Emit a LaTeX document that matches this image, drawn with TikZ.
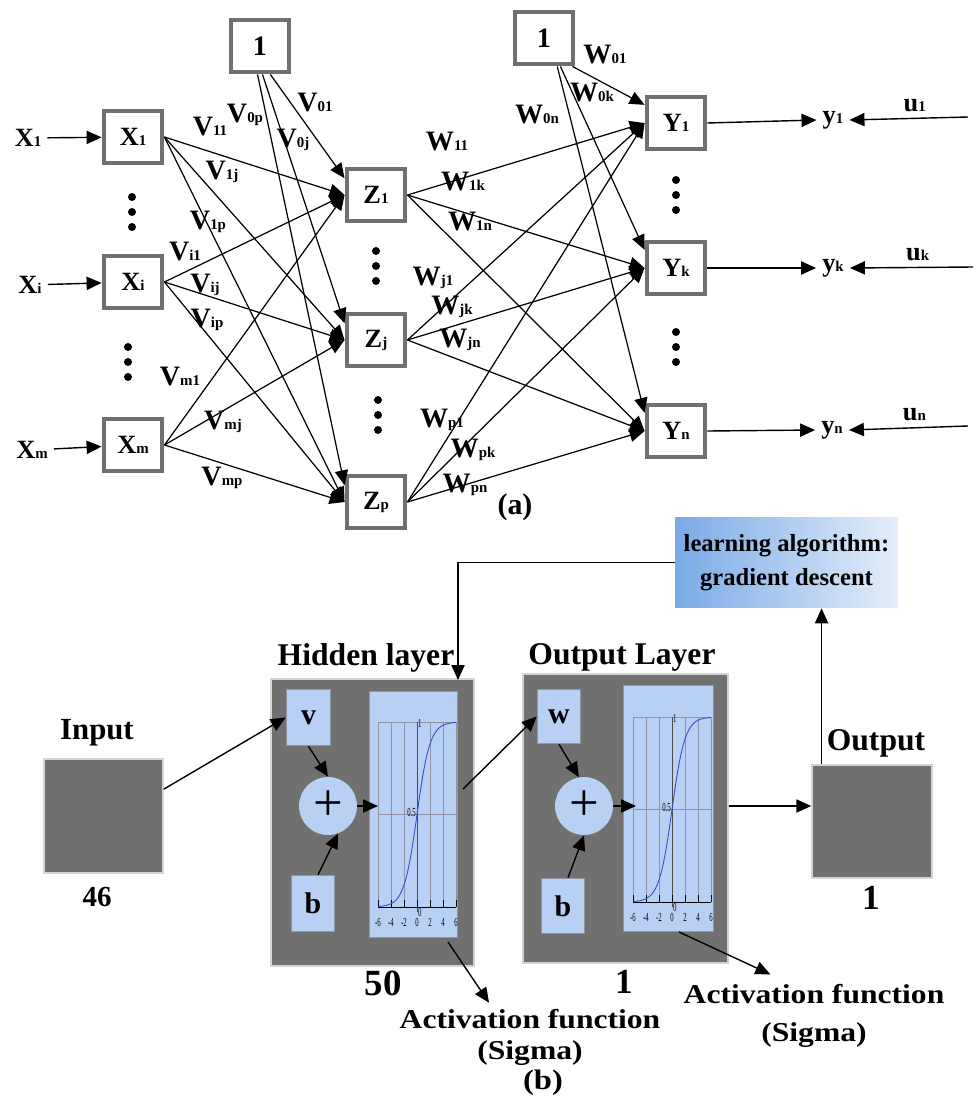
\documentclass[tikz,border=0pt]{standalone}
\usepackage{fontspec}
\setmainfont{Liberation Serif}
\usetikzlibrary{arrows.meta, positioning, calc}

\definecolor{boxgray}{RGB}{112,112,112}
\definecolor{panelblue}{RGB}{185,208,245}
\definecolor{learnleft}{RGB}{122,170,229}
\definecolor{learnright}{RGB}{228,238,251}
\definecolor{curveblue}{RGB}{55,75,200}
\definecolor{gridgray}{RGB}{140,148,165}

% letter with a small index on the baseline
\newcommand{\lsub}[2]{#1{\fontsize{8.5}{9}\selectfont #2}}
% squeezed tick label of the sigmoid plot
\newcommand{\tk}[1]{\scalebox{0.55}[1]{\fontsize{7}{7}\selectfont #1}}
% widened note text
\newcommand{\wide}[1]{\scalebox{1.16}[1]{#1}}

\begin{document}
\begin{tikzpicture}[
    x=0.02cm, y=-0.02cm,
    font=\bfseries,
    neuron/.style={rectangle, draw=boxgray, line width=2.8pt, fill=white, minimum width=1.16cm, minimum height=1.04cm, font=\bfseries\fontsize{15}{17}\selectfont},
    bias/.style={neuron, font=\bfseries\fontsize{16}{18}\selectfont},
    wlab/.style={font=\bfseries\fontsize{16}{18}\selectfont, inner sep=1pt},
    iolab/.style={font=\bfseries\fontsize{15}{17}\selectfont},
    edge/.style={line width=0.7pt, -{Triangle[length=8.5pt,width=7.5pt]}},
    arrow/.style={line width=0.8pt, -{Triangle[length=8.5pt,width=7.5pt]}},
    layer/.style={rectangle, fill=boxgray, inner sep=0pt, draw=boxgray, draw opacity=0.3, line width=2pt},
    unit/.style={rectangle, fill=panelblue, inner sep=0pt, draw=panelblue, draw opacity=0.4, line width=1.5pt, font=\bfseries\fontsize{17}{19}\selectfont},
    adder/.style={circle, fill=panelblue, minimum size=1.16cm, inner sep=0pt, font=\fontsize{30}{30}\selectfont},
    caption/.style={font=\bfseries\fontsize{18}{20}\selectfont},
    note/.style={align=center, font=\bfseries\fontsize{15.5}{17.6}\selectfont},
    learnbox/.style={rectangle, left color=learnleft, right color=learnright, minimum width=4.46cm, minimum height=1.82cm, align=center, font=\bfseries\fontsize{14}{19}\selectfont},
    tick/.style={inner sep=0.5pt, font=\mdseries}
]
\path[use as bounding box, fill=white] (0,0) rectangle (976,1102);

% ---------- (a) network ----------
\node[bias] (one1) at (260,46) {1};
\node[bias] (one2) at (544,38) {1};

% input layer
\node[neuron] (X1) at (133,137) {\lsub{X}{1}};
\node[neuron] (Xi) at (133,282) {\lsub{X}{i}};
\node[neuron] (Xm) at (133,445) {\lsub{X}{m}};

% hidden layer
\node[neuron] (Z1) at (376,195) {\lsub{Z}{1}};
\node[neuron] (Zj) at (376,340) {\lsub{Z}{j}};
\node[neuron] (Zp) at (376,502) {\lsub{Z}{p}};

% output layer
\node[neuron] (Y1) at (676,123) {\lsub{Y}{1}};
\node[neuron] (Yk) at (676,268) {\lsub{Y}{k}};
\node[neuron] (Yn) at (676,431) {\lsub{Y}{n}};

% inputs
\node[iolab] (x1in) at (28,138) {\lsub{X}{1}};
\node[iolab] (xiin) at (30,285) {\lsub{X}{i}};
\node[iolab] (xmin) at (32,450) {\lsub{X}{m}};
\draw[arrow] (x1in) -- (X1);
\draw[arrow] (xiin) -- (Xi);
\draw[arrow] (xmin) -- (Xm);

% outputs and targets
\node[iolab] (y1) at (833,120) {\lsub{y}{1}};
\node[iolab] (yk) at (833,268) {\lsub{y}{k}};
\node[iolab] (yn) at (832,430) {\lsub{y}{n}};
\draw[arrow] (Y1.east) -- (y1.west);
\draw[arrow] (Yk.east) -- (yk.west);
\draw[arrow] (Yn.east) -- (yn.west);
\coordinate (u1s) at (968,117);
\coordinate (uks) at (973,267);
\coordinate (uns) at (968,426);
\draw[arrow] (u1s) -- node[iolab, above, pos=0.45] (u1) {\lsub{u}{1}} (y1.east);
\draw[arrow] (uks) -- node[iolab, above, pos=0.45] (uk) {\lsub{u}{k}} (yk.east);
\draw[arrow] (uns) -- node[iolab, above, pos=0.45] (un) {\lsub{u}{n}} (yn.east);

% dots between units
\foreach \x/\y in {132/212, 128/362, 376/266, 378/415, 676/195, 676/347}
  \foreach \d in {-15,0,15}
    \fill (\x,\y+\d) circle (4);

% weights
\foreach \a in {X1,Xi,Xm}
  \foreach \b in {Z1,Zj,Zp}
    \draw[edge] (\a.east) -- (\b.west);
\foreach \b/\s in {Z1/-70, Zj/-85, Zp/-95}
  \draw[edge] (one1.\s) -- (\b.152);
\foreach \a in {Z1,Zj,Zp}
  \foreach \b in {Y1,Yk,Yn}
    \draw[edge] (\a.east) -- (\b.west);
\foreach \b/\s in {Y1/-45, Yk/-60, Yn/-65}
  \draw[edge] (one2.\s) -- (\b.150);

% weight labels
\foreach \t/\s/\x/\y in {V/11/210/127, V/0p/245/115, V/01/315/103, V/0j/293/140,
    V/1j/222/172, V/1p/208/222, V/i1/185/252, V/ij/205/285, V/ip/207/320,
    V/m1/180/377, V/mj/223/422, V/mp/222/478,
    W/01/605/55, W/0k/592/93, W/0n/537/115, W/11/447/142, W/1k/463/182,
    W/1n/470/222, W/j1/433/278, W/jk/452/307, W/jn/460/340, W/p1/442/420,
    W/pk/473/450, W/pn/465/485}
  \node[wlab] (\t\s) at (\x,\y) {\lsub{\t}{\s}};

\node[caption, font=\bfseries\fontsize{17}{19}\selectfont] (alab) at (515,507) {(a)};

% ---------- (b) training scheme ----------
\node[learnbox] (learn) at (786.5,562.5) {learning algorithm:\\gradient descent};

% input
\node[layer, minimum width=2.34cm, minimum height=2.24cm] (inp) at (103.5,816) {};
\node[caption, font=\bfseries\fontsize{17.5}{19}\selectfont] (inplab) at (97,733) {Input};
\node[caption, font=\bfseries\fontsize{16.5}{18}\selectfont] (inpn) at (97,897) {46};

% hidden layer block
\node[layer, minimum width=4.02cm, minimum height=5.7cm] (hid) at (372.5,822.5) {};
\node[caption] (hidlab) at (366,658) {Hidden layer};
\node[unit, minimum width=0.86cm, minimum height=1.1cm] (v) at (308.5,717.5) {v};
\node[unit, minimum width=0.84cm, minimum height=1.1cm] (hb) at (313,903.5) {b};
\node[adder] (hplus) at (328,806) {+};
\node[unit, minimum width=1.74cm, minimum height=4.9cm] (hplot) at (413.5,814.5) {};
\node[caption, font=\bfseries\fontsize{21}{21}\selectfont] (hidn) at (383,983) {50};

% output layer block
\node[layer, minimum width=4.06cm, minimum height=5.74cm] (olay) at (625.5,818.5) {};
\node[caption] (olaylab) at (622,657) {Output Layer};
\node[unit, minimum width=0.84cm, minimum height=1.06cm] (w) at (559,716.5) {w};
\node[unit, minimum width=0.84cm, minimum height=1.08cm] (ob) at (563,906) {b};
\node[adder] (oplus) at (584,806) {+};
\node[unit, minimum width=1.78cm, minimum height=4.9cm] (oplot) at (668.5,808.5) {};
\node[caption, font=\bfseries\fontsize{20}{20}\selectfont] (olayn) at (624,982) {1};

% output
\node[layer, minimum width=2.36cm, minimum height=2.22cm] (oout) at (872,821.5) {};
\node[caption] (ooutlab) at (876,743) {Output};
\node[caption, font=\bfseries\fontsize{20}{20}\selectfont] (ooutn) at (871,898) {1};

% sigmoid plots
\foreach \dx/\dy in {0/0, 255/-5} {
  \begin{scope}[shift={(\dx,\dy)}]
    \foreach \k in {0,...,6}
      \draw[gridgray, line width=0.3pt] (378+13*\k,722) -- (378+13*\k,907);
    \draw[gridgray, line width=0.3pt] (378,722) -- (456,722);
    \draw[gridgray, line width=0.3pt] (378,814.5) -- (456,814.5);
    \draw[black!70, line width=0.4pt] (417,722) -- (417,912);
    \draw[black, line width=0.5pt] (378,907) -- (456,907);
    \foreach \k/\v in {0/-6,1/-4,2/-2,3/0,4/2,5/4,6/6} {
      \draw[black, line width=0.4pt] (378+13*\k,907) -- (378+13*\k,900);
      \node[tick] at (378+13*\k,922) {\tk{\v}};
    }
    \node[tick, anchor=west] at (417,723) {\tk{1}};
    \node[tick, anchor=east] at (417,812) {\tk{0.5}};
    \node[tick, anchor=north west] at (417,907) {\tk{0}};
    \draw[curveblue, line width=0.5pt] plot[domain=-6:6, samples=80, smooth] ({417+6.5*\x}, {907-185/(1+exp(-\x))});
  \end{scope}
}

% signal flow
\coordinate (hin) at (378,806);
\coordinate (hout) at (463,789);
\coordinate (oin) at (636,806);
\coordinate (hfb) at (458,680);
\coordinate (oup) at ($(oout.north west)!0.085!(oout.north east)$);
\draw[arrow] (inp.24) -- (v.west);
\draw[arrow] (v.south) -- (hplus.north);
\draw[arrow] (hb.80) -- (hplus.-70);
\draw[arrow] (hplus.east) -- (hin);
\draw[arrow] (hout) -- (w.west);
\draw[arrow] (w.south) -- (oplus.100);
\draw[arrow] (ob.80) -- (oplus.south);
\draw[arrow] (oplus.east) -- (oin);
\draw[arrow] (olay.east |- oin) -- (oout.west |- oin);
\draw[arrow] (oup) -- (oup |- learn.south);
\draw[arrow] (learn.west) -| (hfb);

% activation function notes
\node[note] (hact) at (530,1037) {\wide{Activation function}\\\wide{(Sigma)}};
\node[note, font=\bfseries\fontsize{15.5}{21.5}\selectfont] (oact) at (814,1016) {\wide{Activation function}\\\wide{(Sigma)}};
\coordinate (hsig) at (448,942);
\coordinate (osig) at (679,932);
\draw[arrow] (hsig) -- ($(hact.north west)!0.35!(hact.north east)$);
\draw[arrow] (osig) -- ($(oact.north west)!0.34!(oact.north east)+(0,-4)$);

\node[note, font=\bfseries\fontsize{16}{18}\selectfont] (blab) at (543,1083) {\wide{(b)}};

\end{tikzpicture}
\end{document}
